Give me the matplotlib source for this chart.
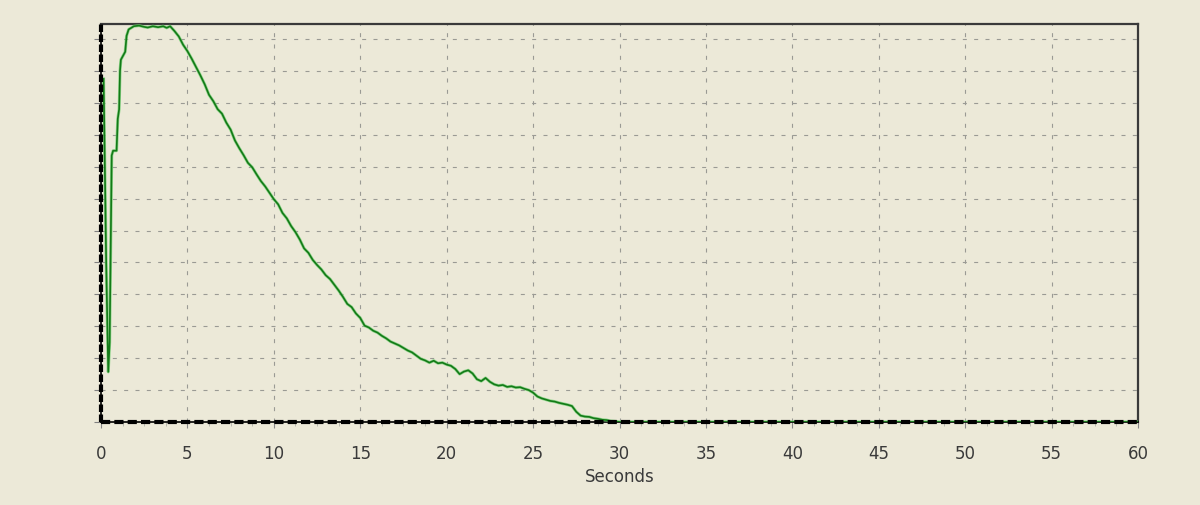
import matplotlib
matplotlib.use("Agg")
import matplotlib.pyplot as plt
from matplotlib.ticker import MultipleLocator, NullFormatter

# ---- data ----
seconds = [0.15, 0.30, 0.42, 0.50, 0.55, 0.62, 0.70, 0.90, 0.97, 1.05, 1.10, 1.15,
           1.30, 1.40, 1.48, 1.60, 1.90, 2.20, 2.50, 2.70, 3.00, 3.30, 3.60, 3.80,
           4.00, 4.25, 4.50, 4.75, 5.00, 5.25, 5.50, 5.75, 6.00, 6.25, 6.50, 6.75,
           7.00, 7.25, 7.50, 7.75, 8.00, 8.25, 8.50, 8.75, 9.00, 9.25, 9.50, 9.75,
           10.00, 10.25, 10.50, 10.75, 11.00, 11.25, 11.50, 11.75, 12.00, 12.25,
           12.50, 12.75, 13.00, 13.25, 13.50, 13.75, 14.00, 14.25, 14.50, 14.75,
           15.00, 15.25, 15.50, 15.75, 16.00, 16.25, 16.50, 16.75, 17.00, 17.25,
           17.50, 17.75, 18.00, 18.25, 18.50, 18.75, 19.00, 19.25, 19.50, 19.75,
           20.00, 20.25, 20.50, 20.75, 21.00, 21.25, 21.50, 21.75, 22.00, 22.25,
           22.50, 22.75, 23.00, 23.25, 23.50, 23.75, 24.00, 24.25, 24.50, 24.75,
           25.00, 25.25, 25.50, 25.75, 26.00, 26.25, 26.50, 26.75, 27.00, 27.25,
           27.50, 27.75, 28.00, 28.25, 28.50, 28.75, 29.00, 29.25, 29.50, 29.75,
           30.00, 45.00, 60.00]
level = [10.75, 5.00, 1.57, 2.50, 5.00, 8.35, 8.50, 8.50, 9.50, 9.80, 11.00, 11.35,
         11.50, 11.60, 12.10, 12.30, 12.40, 12.42, 12.38, 12.36, 12.40, 12.37, 12.40, 12.35,
         12.40, 12.25, 12.08, 11.82, 11.62, 11.38, 11.12, 10.86, 10.58, 10.25, 10.05, 9.80,
         9.66, 9.38, 9.16, 8.82, 8.58, 8.36, 8.12, 7.98, 7.76, 7.55, 7.38, 7.18,
         6.98, 6.82, 6.55, 6.38, 6.14, 5.95, 5.72, 5.44, 5.30, 5.08,
         4.92, 4.78, 4.60, 4.48, 4.30, 4.12, 3.92, 3.70, 3.60, 3.40,
         3.26, 3.02, 2.96, 2.86, 2.80, 2.70, 2.62, 2.52, 2.46, 2.40,
         2.32, 2.24, 2.18, 2.08, 1.98, 1.93, 1.86, 1.92, 1.84, 1.86,
         1.80, 1.76, 1.66, 1.50, 1.58, 1.62, 1.52, 1.34, 1.28, 1.38,
         1.26, 1.18, 1.14, 1.16, 1.10, 1.12, 1.08, 1.09, 1.04, 1.00,
         0.92, 0.80, 0.74, 0.70, 0.66, 0.64, 0.60, 0.57, 0.54, 0.50,
         0.32, 0.20, 0.17, 0.16, 0.12, 0.10, 0.07, 0.06, 0.03, 0.02,
         0.00, 0.00, 0.00]
x_ticks = [0, 5, 10, 15, 20, 25, 30, 35, 40, 45, 50, 55, 60]
x_label = "Seconds"

BG = "#ECE9D8"
W, H = 1200, 506
fig = plt.figure(figsize=(W / 100, H / 100), dpi=100, facecolor=BG)
L, R, T, B = 101, 1138, 25, 423
ax = fig.add_axes([L / W, 1 - B / H, (R - L) / W, (B - T) / H], facecolor=BG)

ax.set_xlim(0, 60)
ax.set_ylim(0, 12.47)

ax.xaxis.set_minor_locator(MultipleLocator(1.25))
ax.yaxis.set_major_locator(MultipleLocator(1))
ax.set_xticks(x_ticks)
ax.set_xticklabels([str(v) for v in x_ticks])
ax.yaxis.set_major_formatter(NullFormatter())
ax.grid(True, which="major", color="#9a9a94", linewidth=0.8, linestyle=(0, (3.6, 6.6)))
ax.set_axisbelow(True)

# curve: light anti-alias halo plus dark core
ax.plot(seconds, level, color="#72cf72", linewidth=2.2, alpha=0.75, zorder=3)
ax.plot(seconds, level, color="#137a17", linewidth=1.2, zorder=4)

# dashed heavy baselines along the bottom and left axes
ax.axhline(0, color="black", linewidth=3.0, linestyle=(0, (2.2, 1.0)), zorder=5, clip_on=False)
ax.axvline(0, color="black", linewidth=3.0, linestyle=(0, (1.8, 0.6)), zorder=5, clip_on=False)

for side in ("top", "right"):
    ax.spines[side].set_color("#3a3a3a")
    ax.spines[side].set_linewidth(1.6)
for side in ("left", "bottom"):
    ax.spines[side].set_color("black")
    ax.spines[side].set_linewidth(1.2)

ax.tick_params(axis="x", which="major", length=4, width=0.8, color="#888888",
               pad=11.5, labelsize=12, labelcolor="#3a3a3a")
ax.tick_params(axis="x", which="minor", length=3, width=0.6, color="#b0b0a8")
ax.tick_params(axis="y", which="major", length=5, width=0.8, color="#808080")

fig.text((L + R) / 2 / W, 1 - 477 / H, x_label, ha="center", va="center",
         fontsize=12, color="#3a3a3a")

fig.savefig("out.png", dpi=100, facecolor=BG)
